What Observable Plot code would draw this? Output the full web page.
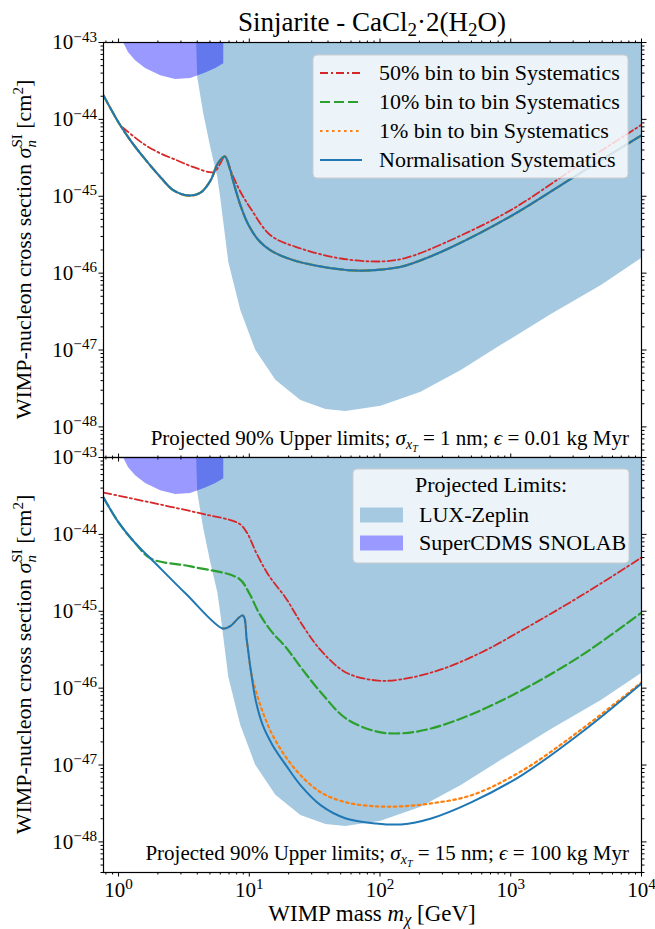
<!DOCTYPE html>
<html>
<head>
<meta charset="utf-8">
<script src="https://cdn.jsdelivr.net/npm/d3@7"></script>
<script src="https://cdn.jsdelivr.net/npm/@observablehq/plot@0.6"></script>
<style>
  html, body { margin: 0; padding: 0; background: #ffffff; }
  #wrap { position: relative; width: 655px; height: 929px; overflow: hidden; }
  #wrap svg { position: absolute; left: 0; overflow: visible; }
  #wrap svg text.serif, #wrap svg text.serif tspan { font-family: "Liberation Serif", "Times New Roman", serif !important; }
</style>
</head>
<body>
<div id="wrap"></div>
<script>
// ---------------- axes ----------------
const xDomain = [0.767, 1e4];
const yDomain = [4e-49, 1e-43];
const xMajor = [1, 10, 100, 1000, 10000];
const yMajor = [1e-48, 1e-47, 1e-46, 1e-45, 1e-44, 1e-43];

// ---------------- shaded projected limits ----------------
const lzMass  = [3.9, 3.96, 4.03, 4.48, 5.07, 5.74, 6.04, 6.97, 8.61, 11.2, 15.96, 24.8, 38.6, 54.8, 101.8, 206, 418, 846, 2043, 4932, 10000];
const lzSigma = [1.3e-43, 1.0e-43, 3.5e-44, 1.19e-44, 4.3e-45, 1.76e-45, 9.6e-46, 1.38e-46, 3.27e-47, 9.9e-48, 4.03e-48, 2.21e-48, 1.69e-48, 1.59e-48, 1.85e-48, 2.82e-48, 5.4e-48, 1.15e-47, 2.9e-47, 6.9e-47, 1.55e-46];

const cdmsMass  = [1.05, 1.09, 1.19, 1.35, 1.61, 2.10, 2.73, 3.56, 4.64, 5.54, 6.38];
const cdmsSigma = [1.3e-43, 1.0e-43, 7.4e-44, 5.8e-44, 4.6e-44, 3.7e-44, 3.3e-44, 3.4e-44, 4.0e-44, 4.6e-44, 5.3e-44];

// ---------------- top panel: sigma_xT = 1 nm, eps = 0.01 kg Myr ----------------
const topNormMass  = [0.767, 0.868, 1.0, 1.236, 1.555, 2.098, 2.639, 3.439, 4.25, 5.07, 5.74, 6.49, 7.09, 7.61, 8.61, 9.91, 11.83, 14.61, 20.8, 35.3, 65.5, 121, 158, 316, 1000, 3162, 10000];
const topNormSigma = [2.05e-44, 1.39e-44, 9.1e-45, 5.3e-45, 3.2e-45, 1.76e-45, 1.19e-45, 1.02e-45, 1.12e-45, 1.62e-45, 2.67e-45, 3.3e-45, 2.3e-45, 1.47e-45, 7.4e-46, 4.17e-46, 2.66e-46, 1.97e-46, 1.51e-46, 1.22e-46, 1.08e-46, 1.15e-46, 1.26e-46, 2.0e-46, 5.5e-46, 1.86e-45, 6.2e-45];
// 10% and 1% curves lie on top of the normalisation curve in this panel
const top10Mass = topNormMass, top10Sigma = topNormSigma;
const top1Mass = topNormMass, top1Sigma = topNormSigma;
const top50Mass  = [1.07, 1.555, 2.098, 2.82, 3.76, 5.35, 6.0, 6.49, 7.47, 8.61, 10.27, 14.61, 24.8, 50.2, 101.8, 158, 316, 1000, 3162, 10000];
const top50Sigma = [7.9e-45, 4.8e-45, 3.6e-45, 2.92e-45, 2.39e-45, 2.06e-45, 2.67e-45, 3.3e-45, 1.86e-45, 1.12e-45, 6.9e-46, 3.09e-46, 2.09e-46, 1.55e-46, 1.42e-46, 1.58e-46, 2.5e-46, 6.6e-46, 2.4e-45, 8.5e-45];

// ---------------- bottom panel: sigma_xT = 15 nm, eps = 100 kg Myr ----------------
const botNormMass  = [0.767, 1.0, 1.35, 1.76, 3.26, 6.26, 7.09, 8.92, 9.57, 10.27, 11.2, 12.7, 15.1, 19.1, 24.8, 35.3, 54.8, 93.1, 145, 246, 498, 1203, 3470, 10000];
const botNormSigma = [3.02e-44, 1.43e-44, 7.6e-45, 4.86e-45, 1.70e-45, 5.97e-46, 6.34e-46, 8.8e-46, 4.17e-46, 1.70e-46, 6.9e-47, 3.27e-47, 1.80e-47, 9.9e-48, 5.4e-48, 2.99e-48, 2.02e-48, 1.74e-48, 1.69e-48, 2.02e-48, 3.27e-48, 7.3e-48, 2.65e-47, 1.15e-46];
const bot1Mass  = [6.26, 7.09, 8.92, 9.57, 10.27, 11.2, 12.7, 15.1, 19.1, 24.8, 35.3, 54.8, 93.1, 145, 246, 498, 1203, 3470, 10000];
const bot1Sigma = [5.97e-46, 6.34e-46, 8.8e-46, 4.17e-46, 1.70e-46, 9.3e-47, 4.83e-47, 2.43e-47, 1.26e-47, 7.3e-48, 4.4e-48, 3.27e-48, 2.9e-48, 2.9e-48, 3.17e-48, 4.03e-48, 8.3e-48, 2.9e-47, 1.19e-46];
const bot10Mass  = [0.767, 1.0, 1.35, 1.76, 3.56, 8.31, 9.91, 11.83, 14.61, 19.1, 24.8, 35.3, 54.8, 93.1, 145, 246, 498, 1203, 3470, 10000];
const bot10Sigma = [3.02e-44, 1.43e-44, 7.6e-45, 4.86e-45, 3.83e-45, 2.67e-45, 1.76e-45, 9.6e-46, 5.6e-46, 3.38e-46, 1.86e-46, 8.8e-47, 4.04e-47, 2.74e-47, 2.58e-47, 2.99e-47, 4.55e-47, 9.3e-47, 2.66e-46, 9.6e-46];
const bot50Mass  = [0.767, 1.76, 4.25, 8.31, 9.57, 11.4, 14.1, 19.1, 24.8, 35.3, 54.8, 93.1, 145, 293, 594, 1203, 3470, 10000];
const bot50Sigma = [3.5e-44, 2.6e-44, 1.87e-44, 1.39e-44, 1.06e-44, 5.6e-45, 2.92e-45, 1.47e-45, 7.1e-46, 3.09e-46, 1.6e-46, 1.26e-46, 1.30e-46, 1.75e-46, 2.91e-46, 5.6e-46, 1.6e-45, 5.0e-45];

// ---------------- labels ----------------
const seriesLabels = ["50% bin to bin Systematics", "10% bin to bin Systematics", "1% bin to bin Systematics", "Normalisation Systematics"];
const regionLabels = ["LUX-Zeplin", "SuperCDMS SNOLAB"];
const legendTitle = "Projected Limits:";

// ---------------- styling ----------------
const FONT = '"Liberation Serif", "Times New Roman", serif';
const styles = {
  s50:  {stroke: "#d62728", strokeWidth: 1.8, strokeDasharray: "8,3,2,3"},
  s10:  {stroke: "#2ca02c", strokeWidth: 2.2, strokeDasharray: "10,4"},
  s1:   {stroke: "#ff7f0e", strokeWidth: 2.2, strokeDasharray: "2.5,3.5"},
  norm: {stroke: "#1f77b4", strokeWidth: 2}
};
const lzFill = "#a5c9e1";
const cdmsFill = "blue", cdmsOpacity = 0.4;

const rows = (ms, ss) => ms.map((m, i) => ({m, s: ss[i]}));
const lz = rows(lzMass, lzSigma);
const cdms = rows(cdmsMass, cdmsSigma);

function minor(lo, hi) {
  const out = [];
  for (let e = Math.floor(Math.log10(lo)) - 1; e <= Math.ceil(Math.log10(hi)); e++)
    for (let k = 2; k <= 9; k++) { const v = k * Math.pow(10, e); if (v >= lo * 0.999 && v <= hi * 1.001) out.push(v); }
  return out;
}
const xMinor = minor(xDomain[0], xDomain[1]);
const yMinor = minor(yDomain[0], yDomain[1]);
const expFmt = d => "10^" + String(Math.round(Math.log10(d))).replace("-", "\u2212");
const blank = () => "";

const W = 655, ML = 103, MR = 14, PH = 415;

function panel({series, marginTop, marginBottom, xLabels}) {
  const lineMarks = series.map(([data, st]) =>
    Plot.line(data, {x: "m", y: "s", curve: "catmull-rom", clip: true, ...st}));
  const svg = Plot.plot({
    width: W, height: marginTop + PH + marginBottom,
    marginTop, marginBottom, marginLeft: ML, marginRight: MR,
    x: {type: "log", domain: xDomain, label: null},
    y: {type: "log", domain: yDomain, label: null},
    style: {fontFamily: FONT, fontSize: "21px", background: "transparent", overflow: "visible", color: "black"},
    marks: [
      Plot.areaY(lz, {x: "m", y1: "s", y2: yDomain[1], fill: lzFill, clip: true}),
      Plot.areaY(cdms, {x: "m", y1: "s", y2: yDomain[1], fill: cdmsFill, fillOpacity: cdmsOpacity, clip: true}),
      ...lineMarks,
      Plot.frame({stroke: "black", strokeWidth: 1.2}),
      Plot.axisX({anchor: "bottom", ticks: xMajor, tickSize: 4.5, tickPadding: 5, tickFormat: xLabels ? expFmt : blank, label: null}),
      Plot.axisX({anchor: "bottom", ticks: xMinor, tickSize: 2.5, tickFormat: blank, label: null}),
      Plot.axisX({anchor: "top", ticks: xMajor, tickSize: 4.5, tickFormat: blank, label: null}),
      Plot.axisX({anchor: "top", ticks: xMinor, tickSize: 2.5, tickFormat: blank, label: null}),
      Plot.axisY({anchor: "left", ticks: yMajor, tickSize: 4.5, tickPadding: 2, tickFormat: expFmt, label: null}),
      Plot.axisY({anchor: "left", ticks: yMinor, tickSize: 2.5, tickFormat: blank, label: null}),
      Plot.axisY({anchor: "right", ticks: yMajor, tickSize: 4.5, tickFormat: blank, label: null}),
      Plot.axisY({anchor: "right", ticks: yMinor, tickSize: 2.5, tickFormat: blank, label: null})
    ]
  });
  // superscript exponents on tick labels
  d3.select(svg).selectAll("text").each(function () {
    const m = /^10\^(.+)$/.exec(this.textContent);
    if (!m) return;
    const sel = d3.select(this); sel.text("");
    sel.append("tspan").text("10");
    sel.append("tspan").attr("font-size", "0.72em").attr("dy", "-0.5em").text(m[1]);
  });
  return svg;
}

function rich(textSel, parts) {
  for (const p of parts) {
    const ts = textSel.append("tspan").text(p.t);
    if (p.i) ts.attr("font-style", "italic");
    if (p.fs) ts.attr("font-size", p.fs);
    if (p.dy) ts.attr("dy", p.dy);
    if (p.dx) ts.attr("dx", p.dx);
  }
}

function txt(parent, x, y, size, anchor) {
  return parent.append("text").attr("class", "serif").attr("x", x).attr("y", y).attr("text-anchor", anchor)
    .attr("font-family", FONT).attr("font-size", size).attr("fill", "black");
}

function yLabel(svg, ft) {
  const t = d3.select(svg).append("text").attr("class", "serif")
    .attr("transform", `translate(31,${ft + PH / 2}) rotate(-90)`)
    .attr("text-anchor", "middle").attr("font-family", FONT).attr("font-size", 22).attr("fill", "black");
  rich(t, [{t: "WIMP-nucleon cross section "}, {t: "σ", i: 1}, {t: "n", i: 1, fs: 15, dy: 5},
           {t: "SI", fs: 15, dx: -7.5, dy: -14}, {t: " [cm", dy: 9}, {t: "2", fs: 15, dy: -8}, {t: "]", dy: 8}]);
}

function annotation(svg, ft, sigmaVal, epsVal) {
  const t = txt(d3.select(svg), 629, ft + 403, 21, "end");
  rich(t, [{t: "Projected 90% Upper limits; "}, {t: "σ", i: 1}, {t: "x", i: 1, fs: 14, dy: 4}, {t: "T", i: 1, fs: 10, dy: 3},
           {t: " = " + sigmaVal + " nm; ", dy: -7}, {t: "ϵ", i: 1}, {t: " = " + epsVal + " kg Myr"}]);
}

const wrap = document.getElementById("wrap");

// ---------- top panel ----------
const topFT = 42;
const topSvg = panel({
  series: [[rows(top50Mass, top50Sigma), styles.s50], [rows(top10Mass, top10Sigma), styles.s10],
           [rows(top1Mass, top1Sigma), styles.s1], [rows(topNormMass, topNormSigma), styles.norm]],
  marginTop: topFT, marginBottom: 6, xLabels: false
});
topSvg.style.top = "0px";
wrap.appendChild(topSvg);
{
  const s = d3.select(topSvg);
  const title = txt(s, ML + (W - ML - MR) / 2, 31, 27, "middle");
  rich(title, [{t: "Sinjarite - CaCl"}, {t: "2", fs: 19, dy: 5}, {t: "·2(H", dy: -5}, {t: "2", fs: 19, dy: 5}, {t: "O)", dy: -5}]);
  yLabel(topSvg, topFT);
  annotation(topSvg, topFT, "1", "0.01");
  s.append("rect").attr("x", 313).attr("y", topFT + 13).attr("width", 315).attr("height", 123).attr("rx", 4)
    .attr("fill", "#ffffff").attr("fill-opacity", 0.8).attr("stroke", "#cccccc").attr("stroke-width", 1);
  const keys = ["s50", "s10", "s1", "norm"];
  keys.forEach((k, i) => {
    const y = topFT + 31 + i * 29;
    const st = styles[k];
    s.append("line").attr("x1", 320).attr("x2", 362).attr("y1", y).attr("y2", y)
      .attr("stroke", st.stroke).attr("stroke-width", st.strokeWidth).attr("stroke-dasharray", st.strokeDasharray || null);
    txt(s, 379, y + 7, 22, "start").text(seriesLabels[i]);
  });
}

// ---------- bottom panel ----------
const botFT = 6;
const botSvg = panel({
  series: [[rows(bot50Mass, bot50Sigma), styles.s50], [rows(bot10Mass, bot10Sigma), styles.s10],
           [rows(bot1Mass, bot1Sigma), styles.s1], [rows(botNormMass, botNormSigma), styles.norm]],
  marginTop: botFT, marginBottom: 57, xLabels: true
});
botSvg.style.top = (457 - botFT) + "px";
wrap.appendChild(botSvg);
{
  const s = d3.select(botSvg);
  yLabel(botSvg, botFT);
  annotation(botSvg, botFT, "15", "100");
  const xl = txt(s, ML + (W - ML - MR) / 2, botFT + PH + 49, 23, "middle");
  rich(xl, [{t: "WIMP mass "}, {t: "m", i: 1}, {t: "χ", i: 1, fs: 16, dy: 4}, {t: " [GeV]", dy: -4}]);
  s.append("rect").attr("x", 353).attr("y", botFT + 12).attr("width", 276).attr("height", 94).attr("rx", 4)
    .attr("fill", "#ffffff").attr("fill-opacity", 0.8).attr("stroke", "#cccccc").attr("stroke-width", 1);
  txt(s, 491, botFT + 35, 22, "middle").text(legendTitle);
  const patches = [{fill: lzFill, op: 1}, {fill: "#9999ff", op: 1}];
  patches.forEach((p, i) => {
    const y = botFT + 58 + i * 28;
    s.append("rect").attr("x", 360).attr("y", y - 7.5).attr("width", 43).attr("height", 15).attr("fill", p.fill).attr("fill-opacity", p.op);
    txt(s, 419, y + 7, 22, "start").text(regionLabels[i]);
  });
}
</script>
</body>
</html>
